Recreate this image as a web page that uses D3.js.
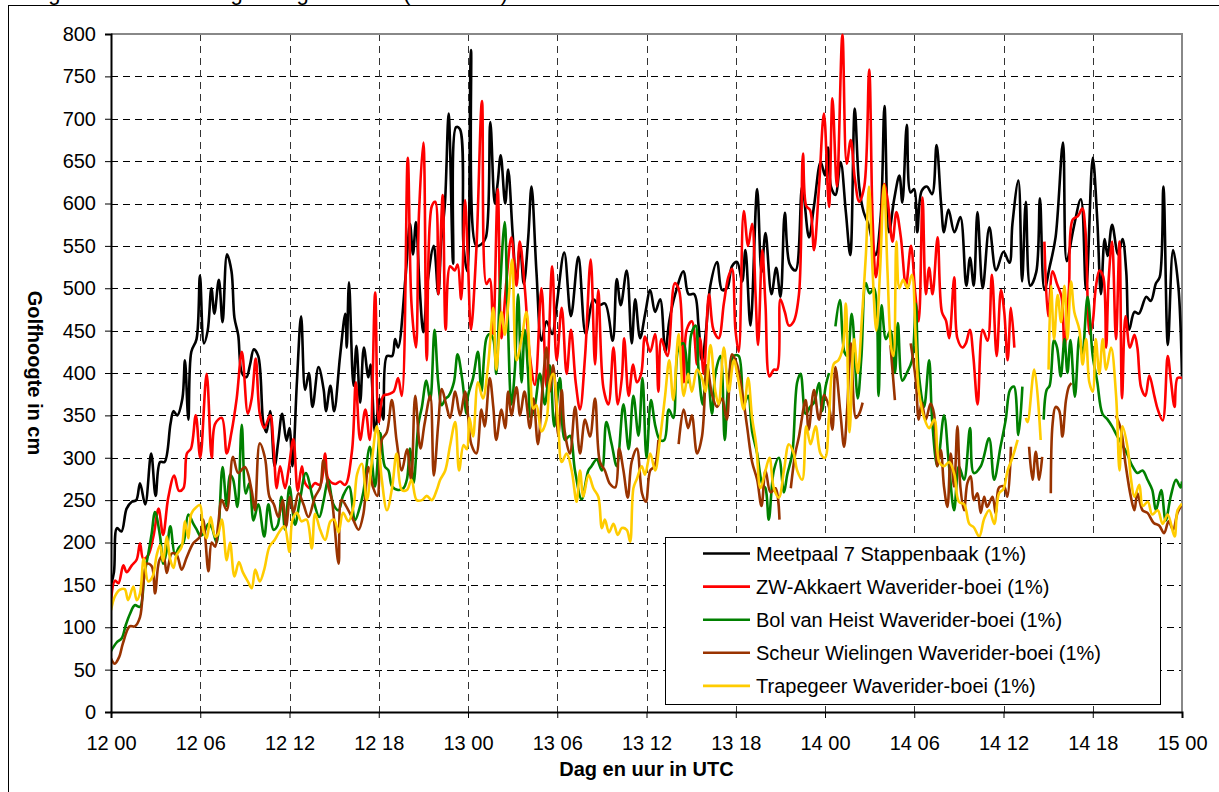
<!DOCTYPE html>
<html>
<head>
<meta charset="utf-8">
<script src="https://cdn.jsdelivr.net/npm/d3@7"></script>
<style>
  body { margin: 0; background: #fff; }
  svg text { font-family: Arial, "Liberation Sans", sans-serif; fill: #000; }
</style>
</head>
<body>
<svg id="chart" width="1219" height="792"></svg>
<script>
// tick labels (hours since 12 00 UTC)
const X_TICK_HOURS = [0, 6, 12, 18, 24, 30, 36, 42, 48, 54, 60, 66, 72];
const X_TICK_LABELS = ["12 00", "12 06", "12 12", "12 18", "13 00", "13 06", "13 12", "13 18", "14 00", "14 06", "14 12", "14 18", "15 00"];
const Y_TICKS = [0, 50, 100, 150, 200, 250, 300, 350, 400, 450, 500, 550, 600, 650, 700, 750, 800];

const SERIES_NAMES = [
  "Meetpaal 7 Stappenbaak (1%)",
  "ZW-Akkaert Waverider-boei (1%)",
  "Bol van Heist Waverider-boei (1%)",
  "Scheur Wielingen Waverider-boei (1%)",
  "Trapegeer Waverider-boei (1%)"
];

// [hour, golfhoogte cm] ; null = gap in the record
const meetpaal = [[0,150],[0.2,165],[0.4,217],[0.7,213],[1.05,240],[1.4,248],[1.7,250],[1.95,270],[2.3,245],[2.7,305],[3.0,255],[3.3,295],[3.6,295],[4.0,340],[4.2,355],[4.45,350],[4.8,370],[4.97,415],[5.2,345],[5.4,425],[5.75,440],[5.98,515],[6.25,435],[6.5,450],[6.75,500],[6.95,470],[7.25,510],[7.5,460],[7.8,540],[8.1,520],[8.3,465],[8.55,445],[8.8,400],[9.1,395],[9.35,410],[9.6,428],[9.9,420],[10.25,340],[10.45,330],[10.7,355],[11.0,290],[11.25,320],[11.5,352],[11.8,320],[12.0,335],[12.2,290],[12.5,390],[12.78,467],[13.05,380],[13.3,400],[13.55,360],[13.95,407],[14.3,380],[14.45,355],[14.75,385],[15.0,355],[15.4,420],[15.75,470],[15.85,430],[16.0,507],[16.3,385],[16.5,432],[16.75,365],[17.0,430],[17.3,395],[17.45,410],[17.75,330],[18.05,370],[18.3,345],[18.55,420],[18.9,420],[19.1,440],[19.3,430],[19.8,513],[20.1,576],[20.3,540],[20.5,578],[20.75,500],[21.0,448],[21.3,510],[21.7,550],[22.0,493],[22.2,555],[22.45,600],[22.7,706],[23.0,529],[23.2,690],[23.45,688],[23.7,550],[23.95,520],[24.2,781],[24.55,550],[24.9,552],[25.2,560],[25.5,696],[25.8,600],[26.0,625],[26.2,657],[26.5,600],[26.7,640],[27.0,565],[27.25,508],[27.5,550],[27.75,505],[28.05,560],[28.27,620],[28.6,520],[28.94,438],[29.28,461],[29.66,446],[29.96,480],[30.47,542],[30.92,467],[31.42,537],[31.91,446],[32.43,487],[32.8,480],[33.21,482],[33.73,438],[34.0,511],[34.27,480],[34.67,521],[35.01,435],[35.24,487],[35.57,441],[35.91,470],[36.25,498],[36.58,472],[36.92,487],[37.26,425],[37.53,461],[37.93,493],[38.49,520],[38.83,493],[39.21,493],[39.5,456],[39.73,415],[40.0,450],[40.29,503],[40.74,531],[41.08,498],[41.42,500],[41.75,526],[42.09,531],[42.43,508],[42.65,545],[42.99,456],[43.44,617],[43.73,519],[44.0,565],[44.4,493],[44.72,524],[45.01,490],[45.3,589],[45.62,529],[46.02,521],[46.47,620],[46.92,560],[47.26,597],[47.71,649],[48.0,633],[48.2,666],[48.4,620],[48.7,610],[49.05,649],[49.4,590],[49.7,539],[50.0,712],[50.3,620],[50.6,590],[50.95,574],[51.4,539],[51.75,586],[52.0,715],[52.3,566],[52.65,605],[53.0,633],[53.2,601],[53.5,693],[53.75,613],[54.0,617],[54.2,566],[54.5,615],[54.85,620],[55.2,611],[55.5,669],[55.8,601],[56.0,566],[56.3,593],[56.7,566],[57.1,584],[57.5,503],[57.75,536],[58.0,503],[58.25,590],[58.6,500],[59.05,572],[59.5,521],[60.0,543],[60.4,530],[60.6,576],[61.0,627],[61.25,508],[61.5,602],[61.8,503],[62.2,519],[62.45,606],[62.75,498],[63.1,525],[63.5,560],[64.0,672],[64.25,532],[64.7,570],[65.2,605],[65.55,498],[66.0,654],[66.3,582],[66.55,493],[66.8,558],[67.0,538],[67.3,575],[67.7,540],[68.0,558],[68.25,520],[68.45,451],[68.8,472],[69.1,470],[69.6,490],[69.9,485],[70.25,506],[70.5,513],[70.75,620],[71.05,433],[71.4,545],[71.75,503],[72.0,396]];

const akkaert = [[0,131],[0.27,155],[0.5,152],[0.83,173],[1.05,165],[1.4,173],[1.73,180],[1.95,199],[2.17,181],[2.5,185],[2.85,207],[3.2,240],[3.5,209],[3.85,253],[4.25,279],[4.57,261],[4.87,264],[5.1,305],[5.38,311],[5.7,350],[6.0,300],[6.43,399],[6.77,300],[7.0,340],[7.45,347],[7.78,305],[8.1,330],[8.45,370],[8.8,425],[9.2,352],[9.46,370],[9.73,417],[10.0,352],[10.3,335],[10.7,350],[10.92,316],[11.14,264],[11.37,290],[11.7,264],[11.93,285],[12.26,322],[12.55,261],[12.83,290],[13.05,270],[13.4,264],[13.7,270],[14.06,268],[14.4,305],[14.6,275],[15.07,269],[15.4,272],[15.74,268],[16.2,308],[16.46,389],[16.75,321],[17.1,357],[17.4,321],[17.76,495],[18.0,342],[18.3,373],[18.65,375],[19.0,378],[19.3,394],[19.55,373],[19.95,654],[20.2,482],[20.5,430],[20.7,586],[21.0,672],[21.23,415],[21.57,597],[21.8,602],[22.0,493],[22.3,610],[22.5,451],[22.8,526],[23.1,521],[23.3,528],[23.54,487],[23.8,604],[24.0,530],[24.2,451],[24.56,545],[24.94,721],[25.24,505],[25.46,511],[25.69,446],[26.0,617],[26.25,441],[26.58,508],[26.92,560],[27.26,503],[27.48,555],[27.82,500],[28.16,420],[28.5,386],[28.94,500],[29.28,383],[29.66,526],[29.96,415],[30.3,477],[30.63,399],[30.92,451],[31.24,389],[31.53,357],[31.87,420],[32.25,534],[32.54,410],[32.76,498],[33.1,383],[33.44,363],[33.78,430],[34.07,363],[34.34,394],[34.5,441],[34.8,373],[35.1,410],[35.35,389],[35.64,399],[35.9,443],[36.25,425],[36.58,446],[36.8,378],[37.0,440],[37.4,420],[37.9,506],[38.2,497],[38.5,389],[38.7,451],[39.05,461],[39.4,410],[39.6,441],[39.85,399],[40.2,493],[40.5,451],[40.85,441],[41.2,482],[41.5,513],[41.75,523],[41.98,451],[42.2,425],[42.54,591],[42.83,550],[43.1,576],[43.33,493],[43.5,433],[43.78,545],[44.0,480],[44.27,396],[44.56,404],[44.79,404],[45.0,487],[45.3,472],[45.57,456],[45.9,461],[46.25,493],[46.52,659],[46.74,597],[47.0,592],[47.26,545],[47.6,620],[47.93,706],[48.27,596],[48.5,724],[48.8,620],[49.17,799],[49.46,647],[49.73,675],[50.0,630],[50.3,602],[50.64,620],[50.97,758],[51.2,581],[51.42,513],[51.7,560],[51.98,623],[52.2,605],[52.54,555],[52.8,590],[53.1,560],[53.44,503],[53.78,550],[54.07,493],[54.3,461],[54.56,607],[54.78,493],[55.0,524],[55.23,493],[55.57,560],[55.86,472],[56.13,462],[56.35,441],[56.69,513],[56.9,441],[57.25,430],[57.47,435],[57.74,451],[57.97,420],[58.26,363],[58.6,451],[58.93,438],[59.22,516],[59.54,420],[59.83,498],[60.05,472],[60.28,415],[60.5,477],[60.73,430],[61.3,null],[62.75,555],[63.0,467],[63.3,520],[63.6,505],[63.9,490],[64.1,430],[64.4,500],[64.65,581],[65.0,585],[65.3,594],[65.5,570],[65.8,446],[66.0,460],[66.2,500],[66.45,521],[66.7,514],[66.9,430],[67.07,510],[67.3,555],[67.56,440],[67.8,555],[67.97,370],[68.2,467],[68.5,430],[68.8,445],[69.0,430],[69.25,383],[69.54,373],[69.8,397],[70.14,373],[70.37,357],[70.7,344],[71.04,420],[71.26,390],[71.5,360],[71.7,394],[72.0,394]];

const bolVanHeist = [[0,72],[0.38,82],[0.72,87],[1.0,103],[1.28,116],[1.6,126],[1.95,124],[2.24,162],[2.5,186],[2.73,210],[2.96,236],[3.3,207],[3.52,175],[3.74,190],[3.99,219],[4.3,186],[4.57,194],[4.87,200],[5.2,233],[5.54,222],[5.77,215],[6.0,208],[6.2,210],[6.55,222],[6.77,218],[7.1,200],[7.5,289],[7.78,243],[8.0,280],[8.2,275],[8.5,242],[8.79,339],[9.06,258],[9.3,270],[9.58,226],[9.9,245],[10.3,207],[10.58,245],[10.92,215],[11.2,220],[11.46,254],[11.7,215],[12.0,266],[12.37,221],[12.7,250],[13.1,282],[13.6,250],[14.0,230],[14.3,250],[14.6,274],[14.95,245],[15.3,238],[15.6,255],[16.0,266],[16.4,226],[16.7,240],[16.97,260],[17.4,313],[17.75,266],[18.1,329],[18.4,290],[18.65,285],[18.9,266],[19.3,262],[19.66,264],[19.9,275],[20.1,311],[20.34,270],[20.67,340],[20.9,360],[21.2,391],[21.46,368],[21.75,451],[22.0,389],[22.24,362],[22.5,370],[22.7,373],[23.05,389],[23.3,422],[23.6,394],[23.9,352],[24.0,373],[24.34,394],[24.67,425],[24.9,378],[25.24,441],[25.46,446],[25.7,440],[25.9,399],[26.13,490],[26.47,578],[26.65,480],[26.92,363],[27.15,404],[27.37,493],[27.6,389],[27.82,451],[28.04,399],[28.22,347],[28.5,362],[28.83,399],[29.17,363],[29.5,409],[29.8,337],[30.18,394],[30.52,321],[30.85,326],[31.19,285],[31.64,251],[32.09,285],[32.3,290],[32.65,298],[33.0,285],[33.3,342],[33.66,316],[34.0,290],[34.45,363],[34.8,310],[35.12,373],[35.46,326],[35.73,394],[36.0,300],[36.3,368],[36.6,337],[36.9,321],[37.2,321],[37.5,357],[37.8,347],[38.16,430],[38.5,435],[38.8,389],[39.0,445],[39.3,456],[39.5,404],[39.78,363],[40.07,409],[40.4,352],[40.63,399],[40.97,420],[41.26,321],[41.53,394],[41.87,420],[42.2,420],[42.54,363],[42.83,373],[43.1,331],[43.44,305],[43.78,269],[44.0,264],[44.22,227],[44.56,285],[44.9,300],[45.24,259],[45.46,280],[45.8,305],[46.13,389],[46.36,399],[46.7,352],[47.0,360],[47.26,365],[47.6,388],[47.8,355],[48.05,385],[48.27,400],[48.45,null],[48.7,455],[49.0,486],[49.3,425],[49.5,420],[49.8,470],[50.2,370],[50.45,420],[50.74,506],[51.0,494],[51.3,500],[51.6,373],[51.8,480],[52.1,440],[52.4,450],[52.7,400],[52.9,459],[53.2,391],[53.5,400],[53.85,415],[54.1,482],[54.3,400],[54.66,360],[55.0,415],[55.2,345],[55.55,290],[56.0,350],[56.34,290],[56.68,238],[57.0,290],[57.35,274],[57.75,335],[58.0,282],[58.47,290],[59.03,323],[59.37,274],[59.8,313],[60.15,345],[60.44,380],[60.7,384],[61.0,327],[61.27,384],[61.5,null],[62.7,345],[62.9,380],[63.1,385],[63.4,439],[63.6,430],[63.85,396],[64.1,440],[64.3,400],[64.5,439],[64.8,372],[65.1,443],[65.3,420],[65.65,490],[66.0,420],[66.3,390],[66.65,352],[67.0,345],[67.3,337],[67.66,325],[68.0,315],[68.3,305],[68.67,290],[69.0,282],[69.35,285],[69.68,274],[70.0,262],[70.25,238],[70.6,262],[70.9,226],[71.25,255],[71.6,274],[71.9,265],[72.0,272]];

const scheurWielingen = [[0,63],[0.25,57],[0.55,65],[0.8,81],[1.25,101],[1.6,101],[1.95,112],[2.18,152],[2.4,175],[2.74,172],[2.96,140],[3.25,179],[3.52,185],[3.75,164],[4.08,187],[4.4,186],[4.75,168],[5.08,182],[5.53,199],[5.98,207],[6.2,227],[6.55,166],[6.77,200],[7.0,195],[7.2,220],[7.45,250],[7.78,238],[8.2,301],[8.55,282],[9.0,289],[9.45,262],[9.67,238],[10.0,317],[10.35,300],[10.65,254],[10.95,245],[11.25,230],[11.55,250],[11.77,219],[12.04,254],[12.27,235],[12.6,258],[12.94,245],[13.27,230],[13.72,254],[14.06,265],[14.28,297],[14.62,265],[14.85,250],[15.3,175],[15.5,250],[15.96,238],[16.3,226],[16.64,215],[16.97,234],[17.3,289],[17.6,266],[17.9,255],[18.2,321],[18.54,330],[18.88,368],[19.2,320],[19.55,285],[19.9,310],[20.18,274],[20.45,373],[20.8,311],[21.08,340],[21.46,373],[21.7,279],[22.0,340],[22.24,381],[22.5,365],[22.8,347],[23.14,378],[23.47,350],[23.8,378],[24.0,350],[24.22,316],[24.56,305],[24.9,357],[25.12,337],[25.46,394],[25.7,360],[25.9,321],[26.25,357],[26.5,335],[26.7,378],[26.92,350],[27.26,383],[27.5,350],[27.8,378],[28.16,335],[28.4,370],[28.7,316],[29.0,380],[29.28,430],[29.5,378],[29.73,409],[30.07,326],[30.3,380],[30.5,331],[30.85,305],[31.2,360],[31.53,305],[31.87,345],[32.2,325],[32.54,370],[32.87,295],[33.2,285],[33.55,269],[33.9,265],[34.16,311],[34.45,285],[34.74,253],[35.0,295],[35.35,311],[35.7,258],[35.96,248],[36.25,285],[36.54,290],[36.8,321],[37.0,null],[38.16,316],[38.5,357],[38.8,335],[39.05,350],[39.4,305],[39.73,325],[40.07,409],[40.4,375],[40.74,360],[41.08,370],[41.4,345],[41.75,422],[42.1,409],[42.43,378],[42.76,337],[43.1,295],[43.44,274],[43.73,243],[44.0,285],[44.34,259],[44.67,264],[44.94,227],[45.2,null],[45.7,264],[46.0,305],[46.25,325],[46.36,337],[46.7,368],[46.9,333],[47.26,380],[47.6,345],[47.93,374],[48.27,360],[48.5,333],[48.7,407],[49.05,350],[49.28,313],[49.5,360],[49.74,435],[50.08,347],[50.3,352],[50.53,365],[50.7,null],[52.4,433],[52.7,368],[52.85,null],[53.76,435],[54.1,392],[54.3,345],[54.5,365],[54.77,345],[55.1,364],[55.33,352],[55.55,290],[55.78,309],[56.0,266],[56.23,242],[56.45,305],[56.68,266],[56.9,337],[57.1,266],[57.35,238],[57.57,270],[57.8,278],[58.0,250],[58.25,258],[58.47,235],[58.7,254],[58.9,242],[59.26,254],[59.48,234],[59.7,265],[60.04,266],[60.26,254],[60.5,313],[60.6,null],[61.72,313],[61.95,274],[62.17,307],[62.4,274],[62.6,301],[62.8,null],[63.18,258],[63.3,340],[63.5,360],[63.74,356],[63.96,325],[64.2,368],[64.4,384],[64.57,388],[64.7,null],[67.55,350],[67.9,333],[68.2,293],[68.56,254],[68.8,238],[69.0,258],[69.35,238],[69.68,235],[70.1,223],[70.46,220],[70.8,211],[71.1,225],[71.4,215],[71.7,235],[72.0,245]];

const trapegeer = [[0,120],[0.25,136],[0.58,144],[0.92,145],[1.15,132],[1.5,148],[1.73,132],[1.95,140],[2.2,181],[2.5,154],[2.8,160],[3.07,185],[3.3,197],[3.5,178],[3.75,207],[3.98,180],[4.2,170],[4.4,185],[4.75,195],[4.97,225],[5.2,205],[5.4,234],[5.75,242],[5.98,244],[6.2,215],[6.43,205],[6.7,230],[7.0,207],[7.2,210],[7.45,227],[7.78,179],[8.0,200],[8.3,160],[8.6,177],[8.86,165],[9.2,154],[9.46,146],[9.7,168],[10.0,154],[10.3,168],[10.65,195],[11.0,203],[11.3,212],[11.65,219],[12.0,189],[12.2,227],[12.5,235],[12.8,225],[13.15,227],[13.5,193],[13.72,234],[14.06,215],[14.4,203],[14.75,225],[15.0,227],[15.3,212],[15.6,235],[15.96,225],[16.3,242],[16.55,281],[16.86,293],[17.2,250],[17.5,290],[17.87,337],[18.2,275],[18.55,238],[18.9,265],[19.2,305],[19.55,262],[19.9,262],[20.2,274],[20.55,250],[20.9,250],[21.23,255],[21.57,250],[21.9,262],[22.13,274],[22.47,285],[22.8,315],[23.14,342],[23.4,285],[23.7,315],[23.92,310],[24.1,347],[24.34,325],[24.67,389],[25.0,370],[25.35,409],[25.7,477],[25.9,404],[26.25,472],[26.47,445],[26.7,480],[26.97,534],[27.26,415],[27.6,440],[27.93,472],[28.16,415],[28.4,358],[28.6,362],[28.94,331],[29.28,345],[29.5,389],[29.73,399],[30.07,337],[30.3,295],[30.63,305],[30.97,285],[31.3,248],[31.53,285],[31.75,254],[32.1,280],[32.43,264],[32.76,254],[33.0,217],[33.2,227],[33.48,212],[33.78,222],[34.07,209],[34.34,217],[34.67,215],[34.9,201],[35.12,264],[35.35,275],[35.68,290],[35.9,280],[36.25,305],[36.58,285],[36.9,321],[37.25,373],[37.53,415],[37.8,368],[38.16,446],[38.5,373],[38.8,399],[39.05,378],[39.4,404],[39.73,394],[39.96,378],[40.3,433],[40.63,378],[40.85,363],[41.2,430],[41.53,378],[41.87,415],[42.2,389],[42.54,357],[42.83,394],[43.1,347],[43.37,316],[43.66,264],[44.0,285],[44.27,300],[44.56,264],[44.9,253],[45.24,285],[45.57,316],[45.9,305],[46.13,285],[46.47,274],[46.74,337],[47.03,316],[47.37,337],[47.7,305],[48.0,300],[48.27,350],[48.6,411],[48.9,415],[49.2,430],[49.4,482],[49.65,330],[49.95,440],[50.2,400],[50.5,470],[50.75,540],[50.96,620],[51.2,520],[51.45,450],[51.7,520],[51.97,622],[52.2,520],[52.45,430],[52.6,420],[52.8,555],[53.0,500],[53.25,510],[53.55,500],[53.84,516],[54.1,440],[54.3,380],[54.67,347],[55.0,335],[55.35,345],[55.68,295],[56.0,290],[56.35,295],[56.7,280],[57.0,248],[57.36,245],[57.7,222],[58.0,218],[58.37,207],[58.7,228],[59.04,238],[59.38,222],[59.7,258],[59.99,263],[60.28,285],[60.6,300],[60.95,321],[61.2,null],[61.5,347],[61.62,342],[62.07,404],[62.5,321],[62.7,null],[63.03,404],[63.2,503],[63.4,440],[63.64,492],[63.87,460],[64.1,503],[64.3,440],[64.54,508],[64.76,472],[65.1,451],[65.32,410],[65.55,440],[65.77,389],[66.0,378],[66.2,440],[66.44,399],[66.67,440],[66.9,404],[67.23,430],[67.57,373],[67.8,285],[68.0,337],[68.35,311],[68.57,275],[68.8,254],[69.13,268],[69.36,243],[69.7,248],[70.0,233],[70.37,238],[70.7,222],[71.04,233],[71.5,207],[71.7,238],[72.0,246]];

const ALL_SERIES = [meetpaal, akkaert, bolVanHeist, scheurWielingen, trapegeer];
const COLORS = ["#000000", "#ff0000", "#008000", "#993300", "#ffcc00"];

const SVG = d3.select("#chart");
const PLOT = {left: 111, right: 1182, top: 34, bottom: 712};

let x = d3.scaleLinear().domain([0, 72]).range([PLOT.left, PLOT.right]);
let y = d3.scaleLinear().domain([0, 800]).range([PLOT.bottom, PLOT.top]);

// outer frame of the figure (only top + left are in view)
SVG.append("line").attr("x1", 8).attr("x2", 1219).attr("y1", 5.5).attr("y2", 5.5).attr("stroke", "#000");
SVG.append("line").attr("x1", 8.5).attr("x2", 8.5).attr("y1", 5).attr("y2", 792).attr("stroke", "#000");

// title, only the bottom of it shows above the frame (as in the source)
SVG.append("text")
  .attr("x", 30).attr("y", -0.5)
  .attr("font-size", "22px")
  .text("Figuur 3.12: Golfhoogte langs de kust (1% in cm)");

// gridlines
SVG.append("g").selectAll("line")
  .data(Y_TICKS.filter(v => v > 0 && v < 800))
  .enter().append("line")
  .attr("x1", PLOT.left).attr("x2", PLOT.right)
  .attr("y1", d => Math.round(y(d)) + 0.5).attr("y2", d => Math.round(y(d)) + 0.5)
  .attr("stroke", "#000").attr("stroke-dasharray", "7,5");

SVG.append("g").selectAll("line")
  .data(X_TICK_HOURS.filter(h => h > 0 && h < 72))
  .enter().append("line")
  .attr("x1", d => Math.round(x(d)) + 0.5).attr("x2", d => Math.round(x(d)) + 0.5)
  .attr("y1", PLOT.top).attr("y2", PLOT.bottom)
  .attr("stroke", "#333").attr("stroke-dasharray", "7,5");

// top and right border of the plot area
SVG.append("path")
  .attr("d", `M${PLOT.left},${PLOT.top}H${PLOT.right}V${PLOT.bottom}`)
  .attr("fill", "none").attr("stroke", "#888").attr("stroke-width", 2);

// series
SVG.append("clipPath").attr("id", "plot-clip")
  .append("rect")
  .attr("x", PLOT.left).attr("y", PLOT.top - 1)
  .attr("width", PLOT.right - PLOT.left).attr("height", PLOT.bottom - PLOT.top + 1);

let line = d3.line()
  .defined(d => d[1] !== null)
  .x(d => x(d[0]))
  .y(d => y(d[1]))
  .curve(d3.curveCatmullRom.alpha(0.5));

SVG.append("g").attr("clip-path", "url(#plot-clip)")
  .selectAll("path")
  .data(ALL_SERIES)
  .enter().append("path")
  .attr("d", line)
  .attr("fill", "none")
  .attr("stroke", (d, i) => COLORS[i])
  .attr("stroke-width", 2.6)
  .attr("stroke-linejoin", "round");

// axes
let axisY = d3.axisLeft(y).tickValues(Y_TICKS).tickSize(6).tickPadding(9);
let gy = SVG.append("g").attr("transform", `translate(${PLOT.left},0)`).call(axisY);
gy.selectAll("text").attr("font-size", "20px").attr("font-family", null);
gy.select(".domain").attr("stroke-width", 2);

let axisX = d3.axisBottom(x).tickValues(X_TICK_HOURS)
  .tickFormat((d, i) => X_TICK_LABELS[i])
  .tickSize(6).tickPadding(18);
let gx = SVG.append("g").attr("transform", `translate(0,${PLOT.bottom})`).call(axisX);
gx.selectAll("text").attr("font-size", "20px").attr("font-family", null);
gx.select(".domain").attr("stroke-width", 2);

// axis titles
SVG.append("text")
  .attr("x", (PLOT.left + PLOT.right) / 2).attr("y", 776)
  .attr("text-anchor", "middle")
  .attr("font-size", "20px").attr("font-weight", "bold")
  .text("Dag en uur in UTC");

SVG.append("text")
  .attr("transform", "translate(28,373) rotate(90)")
  .attr("text-anchor", "middle")
  .attr("font-size", "20px").attr("font-weight", "bold")
  .text("Golfhoogte in cm");

// legend
let legend = SVG.append("g").attr("class", "legend");
legend.append("rect")
  .attr("x", 665.5).attr("y", 537.5).attr("width", 495).attr("height", 167)
  .attr("fill", "#fff").attr("stroke", "#000");

let rows = legend.selectAll(".row")
  .data(SERIES_NAMES)
  .enter().append("g")
  .attr("transform", (d, i) => `translate(0,${553.5 + i * 33.1})`);

rows.append("line")
  .attr("x1", 703).attr("x2", 750)
  .attr("stroke", (d, i) => COLORS[i]).attr("stroke-width", 2.6);

rows.append("text")
  .attr("x", 756).attr("dy", "0.36em")
  .attr("font-size", "20px")
  .text(d => d);
</script>
</body>
</html>
